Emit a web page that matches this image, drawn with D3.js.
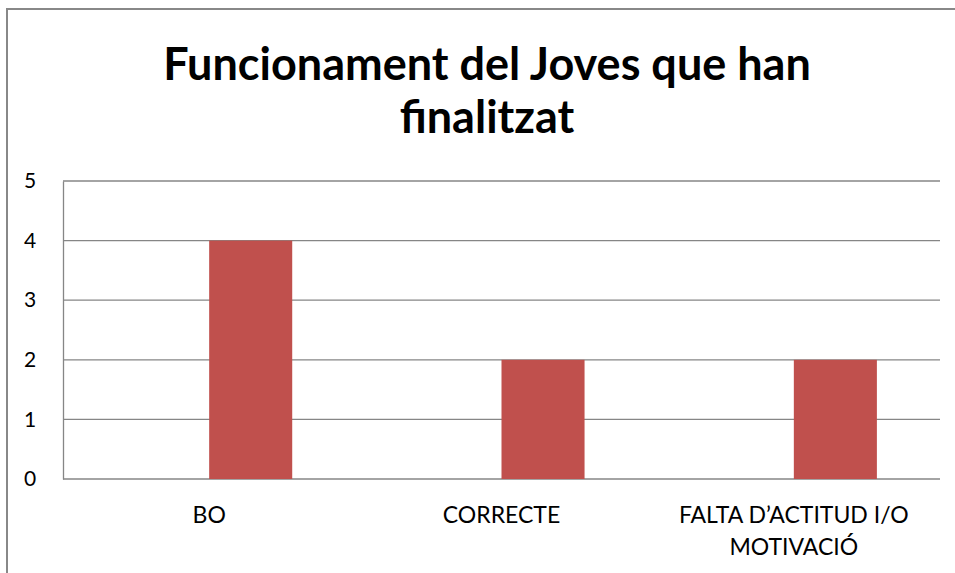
<!DOCTYPE html>
<html>
<head>
<meta charset="utf-8">
<script src="https://cdn.jsdelivr.net/npm/d3@7"></script>
<style>
  body { margin: 0; background: #fff; }
  svg { display: block; }
</style>
</head>
<body>
<script>
// data
const categories = ["BO", "CORRECTE", "FALTA D\u2019ACTITUD I/O MOTIVACIÓ"];
const categoryLines = [["BO"], ["CORRECTE"], ["FALTA D\u2019ACTITUD I/O", "MOTIVACIÓ"]];
const seriesKeys = ["Sèrie 1", "Sèrie 2"];
const values = [4, 2, 2];           // Sèrie 2 (Sèrie 1 is empty in the original)
const yTicks = [0, 1, 2, 3, 4, 5];
const titleLines = ["Funcionament del Joves que han", "finalitzat"];

const w = 955, h = 573;
const plot = {left: 63, right: 940, top: 181, bottom: 479};

const svg = d3.select("body").append("svg")
    .attr("width", w)
    .attr("height", h);

svg.append("rect")
    .attr("width", w).attr("height", h)
    .attr("fill", "#fff");

// outer chart frame (only top + left visible)
svg.append("path")
    .attr("d", `M7,${h} V9 H${w}`)
    .attr("fill", "none")
    .attr("stroke", "#888")
    .attr("stroke-width", 2);

// title
svg.append("text")
    .attr("x", 487)
    .attr("y", 80)
    .attr("text-anchor", "middle")
    .style("font-family", "Lato, 'Open Sans', sans-serif")
    .style("font-weight", "bold")
    .style("font-size", "45px")
    .selectAll("tspan")
    .data(titleLines)
    .enter()
    .append("tspan")
    .attr("x", 487)
    .attr("dy", (d, i) => i === 0 ? 0 : 53)
    .text(d => d);

const x = d3.scaleBand()
    .domain(categories)
    .range([plot.left, plot.right])
    .padding(0);

const xSub = d3.scaleBand()
    .domain(seriesKeys)
    .range([0, x.bandwidth()])
    .paddingInner(0)
    .paddingOuter(0.76);

const y = d3.scaleLinear()
    .domain([0, 5])
    .range([plot.bottom, plot.top]);

// gridlines
svg.append("g")
    .selectAll("line")
    .data(yTicks)
    .enter()
    .append("line")
    .attr("x1", plot.left)
    .attr("x2", plot.right)
    .attr("y1", d => y(d))
    .attr("y2", d => y(d))
    .attr("stroke", "#868686")
    .attr("stroke-width", 1.3);

// y axis
const y_axis = d3.axisLeft(y)
    .tickValues(yTicks)
    .tickFormat(d3.format("d"))
    .tickSize(0)
    .tickPadding(33);

const gy = svg.append("g")
    .attr("transform", `translate(${plot.left},0)`)
    .call(y_axis);
gy.select(".domain")
    .attr("stroke", "#868686")
    .attr("stroke-width", 1.3);
gy.selectAll("text")
    .attr("fill", "#000")
    .style("font-family", "Lato, 'Open Sans', sans-serif")
    .style("font-size", "21px")
    .attr("text-anchor", "middle");

// bars
svg.append("g")
    .selectAll("rect")
    .data(values)
    .enter()
    .append("rect")
    .attr("x", (d, i) => x(categories[i]) + xSub(seriesKeys[1]))
    .attr("y", d => y(d))
    .attr("width", xSub.bandwidth())
    .attr("height", d => y(0) - y(d))
    .attr("fill", "#C0504D");

// category labels
const labels = svg.append("g")
    .style("font-family", "Lato, 'Open Sans', sans-serif")
    .style("font-size", "23px")
    .attr("text-anchor", "middle");

categories.forEach((c, i) => {
    const t = labels.append("text")
        .attr("y", 523);
    categoryLines[i].forEach((line, j) => {
        t.append("tspan")
            .attr("x", x(c) + x.bandwidth() / 2)
            .attr("dy", j === 0 ? 0 : 32)
            .text(line);
    });
});
</script>
</body>
</html>
